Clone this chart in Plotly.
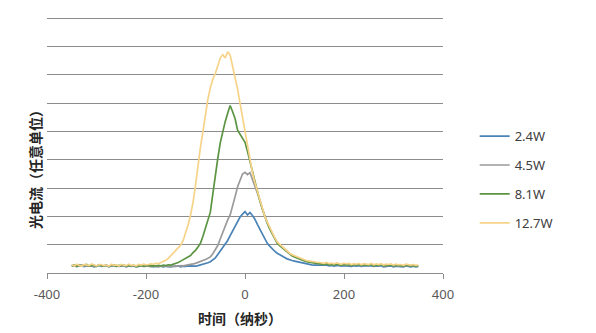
import plotly.graph_objects as go

# Sample times (ns), 5 ns spacing
TIME_NS = list(range(-350, 355, 5))

SERIES_NAMES = ["2.4W", "4.5W", "8.1W", "12.7W"]
SERIES_COLORS = ["#4a83b5", "#9a9a9a", "#5b9442", "#f6d388"]

X_TICKS = [-400, -200, 0, 200, 400]

P_2_4W = [
    0.24, 0.26, 0.23, 0.25, 0.27, 0.23, 0.25, 0.24, 0.26, 0.22, 0.25, 0.27, 0.23, 0.24, 0.26, 0.22,
    0.25, 0.24, 0.26, 0.23, 0.24, 0.26, 0.22, 0.25, 0.23, 0.25, 0.22, 0.24, 0.25, 0.23, 0.24,
    0.23, 0.25, 0.22, 0.24, 0.23, 0.25, 0.22, 0.24, 0.23, 0.22, 0.24, 0.23, 0.25, 0.22, 0.24, 0.23,
    0.25, 0.24, 0.25, 0.24, 0.26, 0.28, 0.30, 0.32, 0.36, 0.40, 0.45, 0.53, 0.65, 0.78, 0.90, 1.00,
    1.15, 1.32, 1.48, 1.65, 1.80, 1.98, 2.08, 2.17, 2.05, 2.14, 2.03, 1.90, 1.72, 1.55, 1.38, 1.22,
    1.05, 0.95, 0.85, 0.77, 0.70, 0.64, 0.60, 0.55, 0.50, 0.46, 0.44, 0.42, 0.40, 0.37, 0.35, 0.33,
    0.31, 0.30, 0.29, 0.28, 0.28, 0.27,
    0.27, 0.26, 0.28, 0.25, 0.27, 0.24, 0.27, 0.26, 0.24, 0.26, 0.25, 0.26, 0.23, 0.26, 0.24, 0.26,
    0.23, 0.25, 0.25, 0.24, 0.26, 0.23, 0.25, 0.24, 0.26, 0.22, 0.24, 0.24, 0.25, 0.22, 0.24, 0.23,
    0.24, 0.22, 0.25, 0.23, 0.22, 0.24, 0.22, 0.23,
]

P_4_5W = [
    0.25, 0.27, 0.23, 0.26, 0.28, 0.24, 0.26, 0.25, 0.27, 0.23, 0.26, 0.28, 0.24, 0.25, 0.27, 0.23,
    0.26, 0.25, 0.27, 0.24, 0.25, 0.27, 0.23, 0.26, 0.24, 0.26, 0.23, 0.25, 0.26, 0.24, 0.25,
    0.24, 0.22, 0.25, 0.23, 0.22, 0.24, 0.23, 0.25, 0.22, 0.24, 0.23, 0.25, 0.24, 0.26, 0.25, 0.27,
    0.28, 0.30, 0.32, 0.34, 0.37, 0.40, 0.44, 0.48, 0.52, 0.57, 0.68, 0.82, 0.97, 1.20, 1.45, 1.68,
    1.88, 2.05, 2.35, 2.70, 3.05, 3.30, 3.50, 3.56, 3.48, 3.55, 3.30, 3.12, 2.88, 2.58, 2.28, 1.98,
    1.77, 1.57, 1.39, 1.22, 1.07, 0.99, 0.91, 0.82, 0.75, 0.68, 0.62, 0.58, 0.54, 0.50, 0.47, 0.44,
    0.41, 0.39, 0.37, 0.36, 0.35, 0.34,
    0.33, 0.31, 0.32, 0.30, 0.31, 0.29, 0.31, 0.30, 0.28, 0.30, 0.29, 0.29, 0.27, 0.29, 0.28, 0.30,
    0.26, 0.28, 0.28, 0.27, 0.29, 0.26, 0.28, 0.27, 0.29, 0.25, 0.27, 0.27, 0.28, 0.25, 0.27, 0.26,
    0.27, 0.24, 0.27, 0.26, 0.25, 0.26, 0.24, 0.26,
]

P_8_1W = [
    0.26, 0.28, 0.24, 0.29, 0.25, 0.27, 0.30, 0.24, 0.27, 0.28, 0.23, 0.29, 0.26, 0.25, 0.28, 0.24,
    0.27, 0.29, 0.23, 0.27, 0.26, 0.28, 0.24, 0.27, 0.25, 0.28, 0.23, 0.26, 0.27, 0.24, 0.26,
    0.27, 0.25, 0.26, 0.24, 0.27, 0.25, 0.28, 0.26, 0.29, 0.28, 0.31, 0.33, 0.37, 0.42, 0.47, 0.52,
    0.57, 0.62, 0.72, 0.80, 0.92, 1.05, 1.30, 1.60, 1.88, 2.15, 2.80, 3.50, 4.05, 4.60, 5.00, 5.35,
    5.65, 5.92, 5.70, 5.45, 5.05, 4.90, 4.78, 4.62, 4.30, 3.95, 3.50, 3.15, 2.85, 2.55, 2.25, 1.97,
    1.76, 1.56, 1.38, 1.20, 1.05, 0.97, 0.90, 0.80, 0.73, 0.66, 0.61, 0.57, 0.53, 0.49, 0.46, 0.43,
    0.40, 0.38, 0.36, 0.35, 0.34, 0.33,
    0.32, 0.30, 0.33, 0.29, 0.31, 0.28, 0.32, 0.30, 0.27, 0.31, 0.29, 0.30, 0.26, 0.30, 0.28, 0.31,
    0.26, 0.29, 0.28, 0.27, 0.30, 0.25, 0.29, 0.27, 0.30, 0.25, 0.28, 0.27, 0.29, 0.25, 0.28, 0.26,
    0.27, 0.24, 0.28, 0.26, 0.25, 0.27, 0.24, 0.26,
]

P_12_7W = [
    0.29, 0.25, 0.31, 0.27, 0.24, 0.30, 0.28, 0.26, 0.32, 0.27, 0.25, 0.29, 0.30, 0.26, 0.28, 0.24,
    0.31, 0.27, 0.29, 0.25, 0.30, 0.28, 0.26, 0.31, 0.27, 0.29, 0.25, 0.30, 0.28, 0.31, 0.29,
    0.30, 0.32, 0.31, 0.34, 0.33, 0.37, 0.40, 0.45, 0.52, 0.60, 0.70, 0.80, 0.90, 0.98, 1.15, 1.40,
    1.70, 2.05, 2.50, 3.10, 3.85, 4.45, 5.00, 5.60, 6.15, 6.55, 6.85, 7.05, 7.35, 7.60, 7.72, 7.60,
    7.82, 7.70, 7.30, 6.95, 6.50, 6.00, 5.50, 5.00, 4.45, 4.00, 3.55, 3.20, 2.90, 2.60, 2.30, 2.00,
    1.80, 1.60, 1.42, 1.25, 1.10, 1.02, 0.95, 0.85, 0.78, 0.70, 0.65, 0.61, 0.57, 0.53, 0.50, 0.47,
    0.44, 0.42, 0.40, 0.39, 0.38, 0.37,
    0.36, 0.34, 0.37, 0.33, 0.35, 0.32, 0.36, 0.33, 0.31, 0.35, 0.32, 0.34, 0.30, 0.33, 0.31, 0.34,
    0.29, 0.33, 0.31, 0.30, 0.34, 0.29, 0.32, 0.30, 0.33, 0.28, 0.31, 0.30, 0.32, 0.28, 0.31, 0.29,
    0.30, 0.27, 0.31, 0.29, 0.28, 0.30, 0.27, 0.29,
]

SERIES_VALUES = [P_2_4W, P_4_5W, P_8_1W, P_12_7W]
for v in SERIES_VALUES:
    assert len(v) == len(TIME_NS), (len(v), len(TIME_NS))

Y_MAX = 9.05
PLOT_BOTTOM = 273.3
UNIT_PX = 28.37
PLOT_TOP = PLOT_BOTTOM - UNIT_PX * Y_MAX
PLOT_H = PLOT_BOTTOM - PLOT_TOP

fig = go.Figure()
for name, color, vals in zip(SERIES_NAMES, SERIES_COLORS, SERIES_VALUES):
    fig.add_trace(go.Scatter(
        x=TIME_NS, y=vals, mode="lines", name=name, legendgroup=name,
        line=dict(color=color, width=1.7),
    ))

fig.update_layout(
    width=596, height=333,
    margin=dict(l=47, r=153, t=PLOT_TOP, b=333 - PLOT_BOTTOM, autoexpand=False),
    paper_bgcolor="white", plot_bgcolor="white",
    font=dict(family="Noto Sans, Noto Sans CJK SC", size=13, color="#595959"),
    showlegend=True,
    legend=dict(
        x=1.08, xanchor="left", y=(PLOT_BOTTOM - 121) / PLOT_H, yanchor="top",
        traceorder="grouped", tracegroupgap=9,
        font=dict(size=13, color="#404040"),
        bgcolor="rgba(0,0,0,0)",
    ),
    xaxis=dict(
        range=[-400, 400], tickvals=X_TICKS, ticktext=[str(t) for t in X_TICKS],
        showgrid=False, zeroline=False, showline=True, linecolor="#8c8c8c", linewidth=1,
        ticks="outside", ticklen=5, tickcolor="#8c8c8c", ticklabelstandoff=4,
        tickfont=dict(size=13, color="#595959"),
    ),
    yaxis=dict(
        range=[0, Y_MAX], dtick=1, showticklabels=False, showgrid=True,
        gridcolor="#8c8c8c", gridwidth=1, zeroline=False, showline=False, ticks="",
    ),
    annotations=[
        dict(text="<b>时间（纳秒）</b>", xref="paper", yref="paper",
             x=(240 - 47) / 396, y=-(318 - PLOT_BOTTOM) / PLOT_H, xanchor="center", yanchor="middle",
             showarrow=False, font=dict(family="Noto Sans CJK SC", size=14, color="#262626")),
        dict(text="<b>光电流（任意单位）</b>", xref="paper", yref="paper", textangle=-90,
             x=-(47 - 35) / 396, y=(PLOT_BOTTOM - 166) / PLOT_H, xanchor="center", yanchor="middle",
             showarrow=False, font=dict(family="Noto Sans CJK SC", size=14, color="#262626")),
    ],
)

fig.write_html("out.html", config={"displayModeBar": False},
               post_script="document.body.style.margin='0px';")
